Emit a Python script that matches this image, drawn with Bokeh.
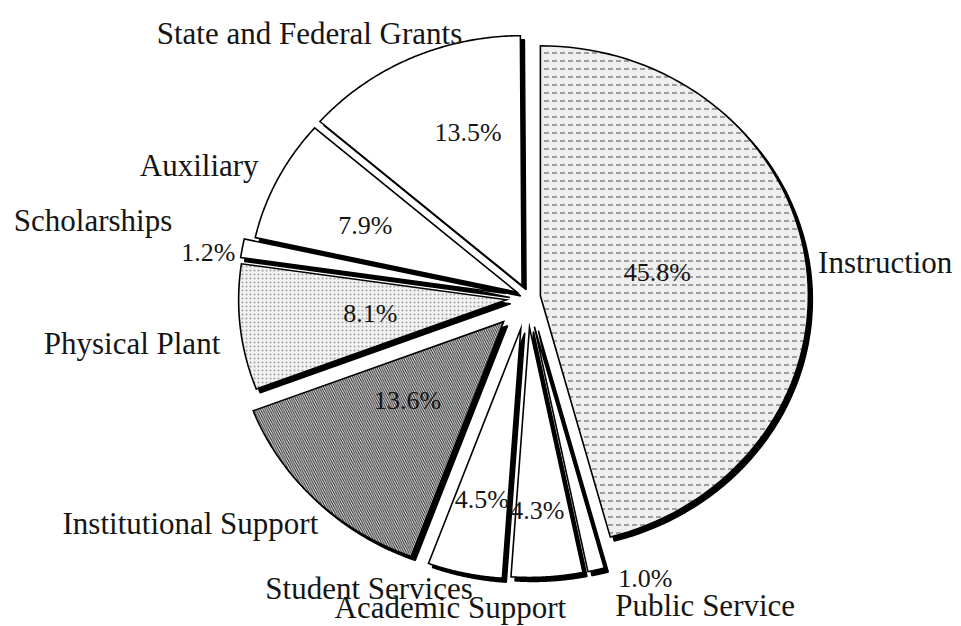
import numpy as np
from bokeh.plotting import figure
from bokeh.models import Range1d
from bokeh.core.properties import value
from bokeh.embed import file_html
from bokeh.resources import INLINE

# ---------------- data ----------------
categories = ["Instruction", "Public Service", "Academic Support", "Student Services",
              "Institutional Support", "Physical Plant", "Scholarships", "Auxiliary",
              "State and Federal Grants"]
shares = [45.8, 1.0, 4.3, 4.5, 13.6, 8.1, 1.2, 7.9, 13.5]
pct_labels = ["45.8%", "1.0%", "4.3%", "4.5%", "13.6%", "8.1%", "1.2%", "7.9%", "13.5%"]

# ---------------- styles / layout ----------------
explode = [13, 30, 30, 32, 34, 21, 22, 12, 13]
fills = [
    dict(fill_color="#eeeeee", hatch_pattern="horizontal_dash", hatch_scale=8, hatch_weight=1.0, hatch_color="#505050"),
    dict(fill_color="white"),
    dict(fill_color="white"),
    dict(fill_color="white"),
    dict(fill_color="#f4f4f4", hatch_pattern="left_diagonal_line", hatch_scale=4.5, hatch_weight=1.1, hatch_color="#2a2a2a"),
    dict(fill_color="#f2f2f2", hatch_pattern="dot", hatch_scale=4, hatch_weight=1.0, hatch_color="#a0a0a0"),
    dict(fill_color="white"),
    dict(fill_color="white"),
    dict(fill_color="white"),
]
name_align = ["left", "left", "right", "right", "right", "right", "right", "right", "right"]
name_dx = [12, 19, 19, 8, 3, -20, -70, -19, 52]
name_dy = [0, 36, 31, 15, 24, 16, -28, -14, -25]
pct_frac = [0.5, 1.0, 0.5, 0.5, 0.5, 0.5, 1.0, 0.5, 0.5]
pct_align = ["center", "left", "center", "center", "center", "center", "right", "center", "center"]
pct_dx = [-16, 22, -1, -11, -2, -3, -7, -32, 2]
pct_dy = [-7, 9, 58, 48, -10, 0, 4, -10, -40]

CX, CY = 527.0, 297.0
RX, RY = 268.0, 250.0
SHADOW = 4.0
FONT = value("Liberation Serif")

W, H = 961, 626
p = figure(width=W, height=H, output_backend="svg", toolbar_location=None,
           x_range=Range1d(0, W), y_range=Range1d(H, 0),
           min_border=0, background_fill_color="white", border_fill_color="white")
p.axis.visible = False
p.grid.visible = False
p.outline_line_color = None

vals = np.array(shares, dtype=float)
ends = np.cumsum(vals) * 3.6
starts = ends - vals * 3.6

slices = []
for i, (a0, a1) in enumerate(zip(starts, ends)):
    b = np.radians((a0 + a1) / 2)
    ax = CX + explode[i] * np.sin(b)
    ay = CY - explode[i] * np.cos(b)
    t = np.radians(np.linspace(a0, a1, 80))
    xs = np.concatenate([[ax], ax + RX * np.sin(t)])
    ys = np.concatenate([[ay], ay - RY * np.cos(t)])
    slices.append((xs, ys, ax, ay, b))

# drop shadows
for xs, ys, ax, ay, b in slices:
    p.patch(xs + SHADOW, ys + SHADOW, fill_color="black", line_color="black", line_width=1.5)
# slices
for i, (xs, ys, ax, ay, b) in enumerate(slices):
    p.patch(xs, ys, line_color="black", line_width=1.6, line_join="miter", **fills[i])

# labels
for align in ["left", "right", "center"]:
    nx, ny, nt = [], [], []
    for i, (xs, ys, ax, ay, b) in enumerate(slices):
        if name_align[i] == align:
            nx.append(ax + RX * np.sin(b) + name_dx[i])
            ny.append(ay - RY * np.cos(b) + name_dy[i])
            nt.append(categories[i])
    if nt:
        p.text(x=nx, y=ny, text=nt, text_font=FONT, text_font_size="31px",
               text_align=align, text_baseline="alphabetic", text_color="#151515")
    px, py, pt = [], [], []
    for i, (xs, ys, ax, ay, b) in enumerate(slices):
        if pct_align[i] == align:
            f = pct_frac[i]
            px.append(ax + f * RX * np.sin(b) + pct_dx[i])
            py.append(ay - f * RY * np.cos(b) + pct_dy[i])
            pt.append(pct_labels[i])
    if pt:
        p.text(x=px, y=py, text=pt, text_font=FONT, text_font_size="26px",
               text_align=align, text_baseline="alphabetic", text_color="#151515")

open("out.html", "w").write(file_html(p, INLINE))
